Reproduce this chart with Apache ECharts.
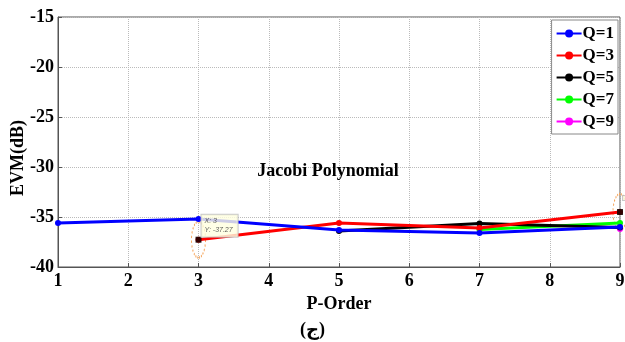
<!DOCTYPE html>
<html><head><meta charset="utf-8">
<script src="https://cdn.jsdelivr.net/npm/echarts@6/dist/echarts.min.js"></script>
<style>html,body{margin:0;padding:0;background:#fff}#c{width:625px;height:342px}</style>
</head><body><div id="c"></div>
<script>
const pOrder = [1, 3, 5, 7, 9];
const q1 = [-35.6, -35.2, -36.3, -36.6, -36.0];
const q3 = [null, -37.27, -35.6, -36.1, -34.5];
const q5 = [null, null, -36.4, -35.65, -36.05];
const q7 = [null, null, null, -36.25, -35.6];
const q9 = [null, null, null, null, -36.2];
const names = ['Q=1', 'Q=3', 'Q=5', 'Q=7', 'Q=9'];
const colors = ['#0000ff', '#ff0000', '#000000', '#00ff00', '#ff00ff'];
const yTicks = [-40, -35, -30, -25, -20, -15];
const xTicks = [1, 2, 3, 4, 5, 6, 7, 8, 9];
const tipPoint = [3, -37.27];
const tipPoint2 = [9, -34.5];

const serif = "'Liberation Serif','DejaVu Serif',serif";
const all = [q1, q3, q5, q7, q9];
function toPairs(arr){ const r=[]; arr.forEach((v,i)=>{ if(v!==null) r.push([pOrder[i], v]); }); return r; }

const series = all.map((arr, i) => ({
  name: names[i], type: 'line', data: toPairs(arr),
  symbol: 'circle', symbolSize: 6, showSymbol: true,
  lineStyle: { width: 3, color: colors[i] },
  itemStyle: { color: colors[i] },
  z: 10 - i
}));
series[1].markPoint = {
  symbol: 'circle', symbolSize: [14, 36], silent: true,
  itemStyle: { color: 'rgba(0,0,0,0)', borderColor: '#f5a45a', borderWidth: 1.5, borderType: 'dotted' },
  label: { show: false },
  data: [{ coord: tipPoint }, { coord: tipPoint2 }]
};
series.push({
  type: 'scatter', data: [tipPoint, tipPoint2], symbol: 'rect', symbolSize: 6,
  itemStyle: { color: '#000' }, silent: true, z: 20,
  label: { show: true, position: 'right', distance: 0, formatter: p => p.dataIndex === 0 ? 'X: 3\nY: -37.27' : '',
    offset: [0, -14], fontSize: 7, fontStyle: 'italic', color: '#333', fontFamily: 'Liberation Sans',
    backgroundColor: '#ffffe0', borderColor: '#bbb', borderWidth: 1, padding: [2, 5, 2, 3], lineHeight: 9 }
});

const chart = echarts.init(document.getElementById('c'));
chart.setOption({
  animation: false,
  backgroundColor: '#fff',
  grid: { left: 58, right: 5, top: 17, bottom: 75, show: true, borderColor: '#555', borderWidth: 1,
    containLabel: false, outerBoundsMode: 'none' },
  title: { text: 'Jacobi Polynomial', left: 323, top: 157, textAlign: 'center',
    textStyle: { fontFamily: serif, fontWeight: 'bold', fontSize: 18, color: '#000' } },
  legend: {
    orient: 'vertical', right: 7, top: 20, data: names,
    itemWidth: 25, itemHeight: 10, itemGap: 5,
    backgroundColor: '#fff', borderColor: '#888', borderWidth: 1, padding: [5, 4, 4, 4],
    textStyle: { fontFamily: serif, fontWeight: 'bold', fontSize: 17, color: '#000', padding: [0,0,0,-4] }
  },
  xAxis: {
    type: 'value', min: 1, max: 9, interval: 1,
    name: 'P-Order', nameLocation: 'middle', nameGap: 24,
    nameTextStyle: { fontFamily: serif, fontWeight: 'bold', fontSize: 18, color: '#000' },
    axisLine: { show: true, lineStyle: { color: '#555' } },
    axisTick: { show: true, inside: true, length: 4, lineStyle: { color: '#555' } },
    axisLabel: { fontFamily: serif, fontWeight: 'bold', fontSize: 18, color: '#000', margin: 5,
      formatter: v => xTicks.includes(v) ? String(v) : '' },
    splitLine: { show: true, lineStyle: { color: '#bbb', type: 'dotted', width: 1 } }
  },
  yAxis: {
    type: 'value', min: -40, max: -15, interval: 5,
    axisLine: { show: true, lineStyle: { color: '#555' } },
    axisTick: { show: true, inside: true, length: 4, lineStyle: { color: '#555' } },
    axisLabel: { fontFamily: serif, fontWeight: 'bold', fontSize: 18, color: '#000', margin: 4,
      formatter: v => yTicks.includes(v) ? String(v) : '' },
    splitLine: { show: true, lineStyle: { color: '#bbb', type: 'dotted', width: 1 } }
  },
  graphic: [{
    type: 'text', x: 18, y: 158, rotation: Math.PI / 2,
    style: { text: 'EVM(dB)', font: "bold 18px 'Liberation Serif',serif", fill: '#000',
      textAlign: 'center', textVerticalAlign: 'middle' }
  }, {
    type: 'text', left: 'center', top: 321,
    style: { text: '(ج)', font: "bold 18px 'Liberation Serif','DejaVu Sans',serif", fill: '#000' }
  }],
  series: series
});
</script></body></html>
